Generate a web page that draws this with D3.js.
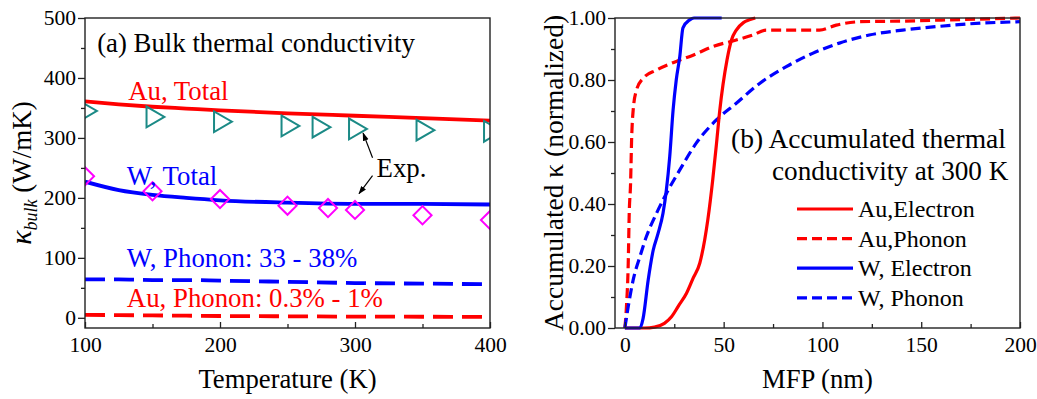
<!DOCTYPE html>
<html>
<head>
<meta charset="utf-8">
<script src="https://cdn.jsdelivr.net/npm/d3@7"></script>
<style>
  body { margin: 0; background: #fff; }
  svg text { font-family: "Liberation Serif", "Times New Roman", serif; }
</style>
</head>
<body>
<svg id="chart" width="1037" height="399"></svg>
<script>
// ---- Panel (a): bulk thermal conductivity vs temperature ----
const tempGrid = [100, 125, 150, 175, 200, 250, 300, 350, 400];
const auTotal  = [361, 356, 352, 349, 346, 341, 337, 333, 329];
const wTotal   = [227, 213, 205, 200, 196, 192, 190, 190, 189];
const wPhonon  = [64, 64, 63, 63, 62, 60, 58, 57, 56];
const auPhonon = [5, 4.5, 4, 3.5, 3, 2.5, 2, 1.8, 1.5];

const auExpT = [100, 150, 200, 250, 273, 300, 350, 400];
const auExpK = [345, 335, 327, 320, 318, 315, 313, 311];
const wExpT  = [100, 150, 200, 250, 280, 300, 350, 400];
const wExpK  = [236, 211, 198, 187, 183, 180, 171, 163];

const tempTicks  = [100, 200, 300, 400];
const tempMinor  = [150, 250, 350];
const kTicks     = [0, 100, 200, 300, 400, 500];
const kMinor     = [50, 150, 250, 350, 450];

// ---- Panel (b): accumulated kappa vs MFP at 300 K ----
const auElecX = [0, 10, 15, 20, 23.6, 27, 31.2, 34.5, 37.9, 42, 44.5, 46.3, 48, 51.7, 54, 56.4, 60, 63, 66];
const auElecY = [0, 0, 0.003, 0.015, 0.036, 0.07, 0.112, 0.16, 0.209, 0.35, 0.48, 0.59, 0.70, 0.865, 0.93, 0.961, 0.985, 0.994, 1.0];

const auPhonX = [0, 0.8, 1.7, 2.2, 2.9, 3.4, 4.2, 5.9, 9.3, 16, 26, 34.5, 44.6, 56.4, 64.8, 71.6, 81.7, 98.5, 107, 119, 140, 170, 200];
const auPhonY = [0, 0.069, 0.209, 0.37, 0.47, 0.606, 0.703, 0.768, 0.806, 0.832, 0.86, 0.88, 0.908, 0.929, 0.945, 0.961, 0.961, 0.961, 0.977, 0.988, 0.99, 0.995, 1.0];

const wElecX = [0, 7.6, 9.2, 11.8, 14.3, 16.8, 19.3, 21, 22.7, 24.4, 26, 27.8, 29.4, 32.8, 35, 49];
const wElecY = [0, 0, 0.03, 0.155, 0.25, 0.305, 0.37, 0.445, 0.553, 0.703, 0.8, 0.876, 0.968, 0.994, 1.0, 1.0];

const wPhonX = [0, 1.7, 4.2, 7.6, 10.9, 16, 21, 27.8, 36.2, 46.3, 56.4, 68.2, 81.7, 95, 108.6, 123.7, 140.6, 157.4, 174, 200];
const wPhonY = [0, 0.069, 0.155, 0.23, 0.295, 0.37, 0.434, 0.51, 0.597, 0.671, 0.725, 0.789, 0.843, 0.886, 0.919, 0.945, 0.961, 0.972, 0.981, 0.988];

const mfpTicks = [0, 50, 100, 150, 200];
const mfpMinor = [25, 75, 125, 175];
const accTicks = [0, 0.2, 0.4, 0.6, 0.8, 1.0];
const accMinor = [0.1, 0.3, 0.5, 0.7, 0.9];

const legendLabels = ["Au,Electron", "Au,Phonon", "W, Electron", "W, Phonon"];

const RED = "#ff0000", BLUE = "#0000ff", TEAL = "#1b8a86", MAGENTA = "#ff00ff";
const zip = (xs, ys) => xs.map((x, i) => [x, ys[i]]);

const svg = d3.select("#chart");

// arrow head
svg.append("defs").append("marker")
    .attr("id", "arrow")
    .attr("viewBox", "0 0 10 10")
    .attr("refX", 9).attr("refY", 5)
    .attr("markerWidth", 7).attr("markerHeight", 7)
    .attr("orient", "auto")
  .append("path")
    .attr("d", "M0,1.5 L10,5 L0,8.5 z")
    .attr("fill", "#000");

function drawAxes(g, x, y, o) {
    const W = x.range()[1] - x.range()[0];
    const H = y.range()[0] - y.range()[1];
    const style = s => s.call(a => a.select(".domain").remove())
        .attr("font-family", null).attr("font-size", 21.5)
        .call(a => a.selectAll("line").attr("stroke", "#222").attr("stroke-width", 1.3))
        .call(a => a.selectAll("text").attr("fill", "#000"));

    g.append("g").attr("transform", `translate(0,${y.range()[0]})`)
        .call(d3.axisBottom(x).tickValues(o.xt).tickSize(-6).tickPadding(9).tickFormat(o.xf))
        .call(style);
    g.append("g").attr("transform", `translate(0,${y.range()[0]})`)
        .call(d3.axisBottom(x).tickValues(o.xm).tickSize(-4).tickFormat(""))
        .call(style);
    g.append("g").attr("transform", `translate(${x.range()[0]},0)`)
        .call(d3.axisLeft(y).tickValues(o.yt).tickSize(7).tickPadding(2).tickFormat(o.yf))
        .call(style);
    g.append("g").attr("transform", `translate(${x.range()[0]},0)`)
        .call(d3.axisLeft(y).tickValues(o.ym).tickSize(4).tickFormat(""))
        .call(style);

    g.append("rect")
        .attr("x", x.range()[0]).attr("y", y.range()[1])
        .attr("width", W).attr("height", H)
        .attr("fill", "none").attr("stroke", "#222").attr("stroke-width", 1.4);
}

function addClip(id, x, y, pad) {
    svg.select("defs").append("clipPath").attr("id", id)
      .append("rect")
        .attr("x", x.range()[0]).attr("y", y.range()[1] - pad)
        .attr("width", x.range()[1] - x.range()[0])
        .attr("height", y.range()[0] - y.range()[1] + 2 * pad);
}

// ================= Panel (a) =================
const xa = d3.scaleLinear().domain([100, 400]).range([85, 490]);
const ya = d3.scaleLinear().domain([-17, 500]).range([328, 18]);
const ga = svg.append("g");
addClip("clipA", xa, ya, 0);

const lineA = d3.line().x(d => xa(d[0])).y(d => ya(d[1])).curve(d3.curveMonotoneX);
const dataA = ga.append("g").attr("clip-path", "url(#clipA)");

const seriesA = [
    { v: auTotal, c: RED, dash: null },
    { v: wTotal, c: BLUE, dash: null },
    { v: wPhonon, c: BLUE, dash: "20,9" },
    { v: auPhonon, c: RED, dash: "20,9" }
];
seriesA.forEach(s => {
    dataA.append("path")
        .datum(zip(tempGrid, s.v))
        .attr("d", lineA)
        .attr("fill", "none")
        .attr("stroke", s.c)
        .attr("stroke-width", 3.8)
        .attr("stroke-dasharray", s.dash);
});

// experimental points
const tri = d3.symbol().type(d3.symbolTriangle).size(185);
dataA.selectAll(".tri")
    .data(zip(auExpT, auExpK))
    .join("path")
    .attr("d", tri)
    .attr("transform", d => `translate(${xa(d[0])},${ya(d[1])}) rotate(90)`)
    .attr("fill", "none").attr("stroke", TEAL).attr("stroke-width", 2);

const dia = d3.symbol().type(d3.symbolSquare).size(165);
dataA.selectAll(".dia")
    .data(zip(wExpT, wExpK))
    .join("path")
    .attr("d", dia)
    .attr("transform", d => `translate(${xa(d[0])},${ya(d[1])}) rotate(45)`)
    .attr("fill", "none").attr("stroke", MAGENTA).attr("stroke-width", 2);

drawAxes(ga, xa, ya, { xt: tempTicks, xm: tempMinor, yt: kTicks, ym: kMinor, xf: d3.format("d"), yf: d3.format("d") });

// annotations (data coordinates)
const notesA = [
    { t: "(a) Bulk thermal conductivity", x: 109, y: 443, c: "#000" },
    { t: "Au, Total", x: 132, y: 363, c: RED },
    { t: "W, Total", x: 131, y: 222, c: BLUE },
    { t: "Exp.", x: 316, y: 235, c: "#000" },
    { t: "W, Phonon: 33 - 38%", x: 131, y: 85, c: BLUE },
    { t: "Au, Phonon: 0.3% - 1%", x: 131, y: 18, c: RED }
];
ga.selectAll(".note")
    .data(notesA)
    .join("text")
    .attr("x", d => xa(d.x)).attr("y", d => ya(d.y))
    .attr("font-size", 26.8)
    .attr("fill", d => d.c)
    .text(d => d.t);

const arrowsA = [
    { x1: 313, y1: 267, x2: 306, y2: 308 },
    { x1: 313, y1: 237, x2: 303, y2: 207 }
];
ga.selectAll(".arr")
    .data(arrowsA)
    .join("line")
    .attr("x1", d => xa(d.x1)).attr("y1", d => ya(d.y1))
    .attr("x2", d => xa(d.x2)).attr("y2", d => ya(d.y2))
    .attr("stroke", "#000").attr("stroke-width", 1.2)
    .attr("marker-end", "url(#arrow)");

ga.append("text")
    .attr("x", (xa.range()[0] + xa.range()[1]) / 2).attr("y", 388)
    .attr("text-anchor", "middle").attr("font-size", 26.7)
    .text("Temperature (K)");

const ylabA = ga.append("text")
    .attr("transform", "translate(31,173) rotate(-90)")
    .attr("text-anchor", "middle").attr("font-size", 27);
ylabA.append("tspan").attr("font-style", "italic").attr("font-size", 30).text("κ");
ylabA.append("tspan").attr("font-style", "italic").attr("font-size", 18).attr("dy", 6).text("bulk");
ylabA.append("tspan").attr("dy", -6).text(" (W/mK)");

// ================= Panel (b) =================
const xb = d3.scaleLinear().domain([-5, 200]).range([615, 1020]);
const yb = d3.scaleLinear().domain([0, 1]).range([328, 18]);
const gb = svg.append("g");
addClip("clipB", xb, yb, 3);

const lineB = d3.line().x(d => xb(d[0])).y(d => yb(d[1])).curve(d3.curveMonotoneX);
const dataB = gb.append("g").attr("clip-path", "url(#clipB)");

const seriesB = [
    { pts: zip(auPhonX, auPhonY), c: RED, dash: "10,5" },
    { pts: zip(wPhonX, wPhonY), c: BLUE, dash: "10,5" },
    { pts: zip(auElecX, auElecY), c: RED, dash: null },
    { pts: zip(wElecX, wElecY), c: BLUE, dash: null }
];
seriesB.forEach(s => {
    dataB.append("path")
        .datum(s.pts)
        .attr("d", lineB)
        .attr("fill", "none")
        .attr("stroke", s.c)
        .attr("stroke-width", 3.2)
        .attr("stroke-dasharray", s.dash);
});

drawAxes(gb, xb, yb, { xt: mfpTicks, xm: mfpMinor, yt: accTicks, ym: accMinor, xf: d3.format("d"), yf: d3.format(".2f") });

gb.append("text").attr("x", 731).attr("y", 148).attr("font-size", 27.5)
    .text("(b) Accumulated thermal");
gb.append("text").attr("x", 772).attr("y", 180).attr("font-size", 27.2)
    .text("conductivity at 300 K");

// legend
const legendStyle = [
    { c: RED, dash: null }, { c: RED, dash: "10,5" },
    { c: BLUE, dash: null }, { c: BLUE, dash: "10,5" }
];
const leg = gb.append("g").attr("transform", "translate(797,209)");
legendLabels.forEach((lab, i) => {
    const row = leg.append("g").attr("transform", `translate(0,${i * 29.6})`);
    row.append("line").attr("x1", 0).attr("x2", 56).attr("y1", 0).attr("y2", 0)
        .attr("stroke", legendStyle[i].c).attr("stroke-width", 3.2)
        .attr("stroke-dasharray", legendStyle[i].dash);
    row.append("text").attr("x", 61).attr("y", 8).attr("font-size", 24).text(lab);
});

gb.append("text")
    .attr("x", (xb.range()[0] + xb.range()[1]) / 2).attr("y", 388)
    .attr("text-anchor", "middle").attr("font-size", 26.7)
    .text("MFP (nm)");

gb.append("text")
    .attr("transform", "translate(563,173) rotate(-90)")
    .attr("text-anchor", "middle").attr("font-size", 27.5)
    .text("Accumulated κ (normalized)");
</script>
</body>
</html>
